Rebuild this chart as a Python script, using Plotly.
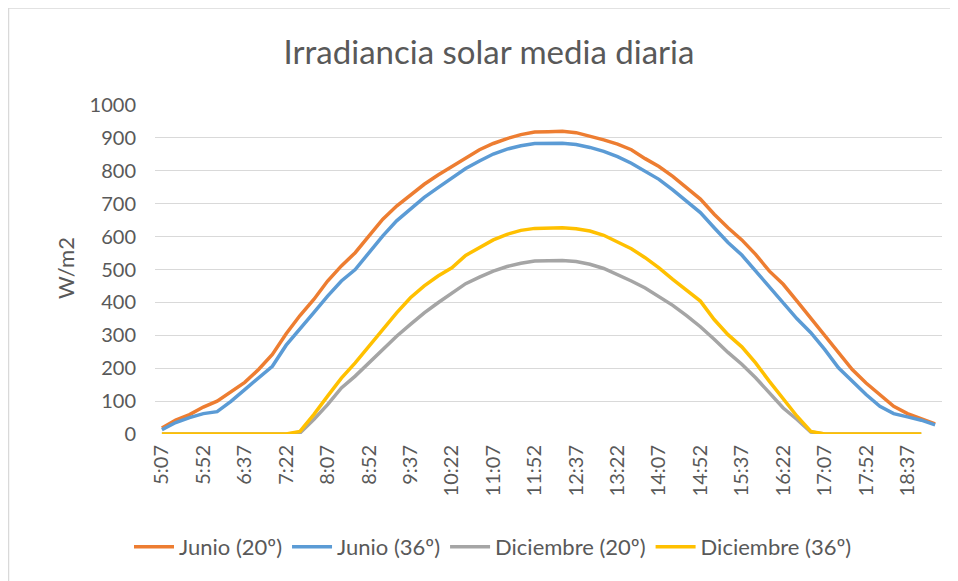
import plotly.graph_objects as go

times = ["5:07", "5:22", "5:37", "5:52", "6:07", "6:22", "6:37", "6:52", "7:07", "7:22",
         "7:37", "7:52", "8:07", "8:22", "8:37", "8:52", "9:07", "9:22", "9:37", "9:52",
         "10:07", "10:22", "10:37", "10:52", "11:07", "11:22", "11:37", "11:52", "12:07", "12:22",
         "12:37", "12:52", "13:07", "13:22", "13:37", "13:52", "14:07", "14:22", "14:37", "14:52",
         "15:07", "15:22", "15:37", "15:52", "16:07", "16:22", "16:37", "16:52", "17:07", "17:22",
         "17:37", "17:52", "18:07", "18:22", "18:37", "18:52", "19:07"]

tick_labels = ["5:07", "5:52", "6:37", "7:22", "8:07", "8:52", "9:37", "10:22", "11:07", "11:52",
               "12:37", "13:22", "14:07", "14:52", "15:37", "16:22", "17:07", "17:52", "18:37"]

junio_20 = [18, 42, 59, 82, 100, 127, 157, 196, 242, 305,
            360, 409, 465, 511, 551, 602, 653, 693, 726, 759,
            787, 812, 840, 864, 883, 898, 910, 918, 919, 920,
            916, 906, 894, 881, 864, 837, 813, 783, 749, 714,
            668, 627, 590, 546, 495, 455, 404, 353, 302, 247,
            196, 155, 120, 84, 62, 46, 31]

junio_36 = [13, 35, 50, 62, 68, 99, 135, 170, 206, 270,
            318, 369, 419, 465, 500, 551, 602, 648, 683, 719,
            749, 777, 807, 830, 851, 866, 876, 883, 883, 884,
            880, 871, 859, 843, 823, 800, 774, 742, 708, 673,
            627, 582, 544, 495, 445, 399, 350, 308, 257, 201,
            160, 120, 84, 62, 52, 42, 28]

diciembre_20 = [0, 0, 0, 0, 0, 0, 0, 0, 0, 0,
                3, 44, 89, 140, 176, 216, 257, 297, 333, 368,
                399, 429, 457, 477, 495, 509, 519, 526, 527, 527,
                524, 516, 503, 485, 465, 444, 419, 391, 360, 326,
                288, 248, 212, 171, 125, 79, 44, 6, 0, 0,
                0, 0, 0, 0, 0, 0, None]

diciembre_36 = [0, 0, 0, 0, 0, 0, 0, 0, 0, 0,
                8, 59, 115, 170, 216, 267, 318, 368, 414, 450,
                480, 505, 543, 568, 590, 607, 619, 625, 626, 627,
                624, 617, 604, 584, 563, 536, 505, 470, 437, 404,
                348, 302, 265, 216, 160, 105, 54, 8, 0, 0,
                0, 0, 0, 0, 0, 0, None]

series_names = ["Junio (20º)", "Junio (36º)", "Diciembre (20º)", "Diciembre (36º)"]
series_colors = ["#ED7D31", "#5B9BD5", "#A5A5A5", "#FFC000"]
series_values = [junio_20, junio_36, diciembre_20, diciembre_36]

FONT = "Lato"
TXT = "#595959"

fig = go.Figure()
for name, color, vals in zip(series_names, series_colors, series_values):
    fig.add_trace(go.Scatter(x=times, y=vals, mode="lines", name=name,
                             line=dict(color=color, width=3.5), connectgaps=False))

# page has an 8px body margin: figure origin sits at page (8, 8)
OFF = 8
W, H = 958 - OFF, 581 - OFF
# plot area in page pixels: x 155..942, y 105..434
PL, PR, PT, PB = 155, 942, 105, 434
L, R = PL - OFF, W - (PR - OFF)
T, B = PT - OFF, H - (PB - OFF)
pw, ph = PR - PL, PB - PT

def px(x):  # page x -> paper
    return (x - PL) / pw

def py(y):  # page y -> paper
    return (PB - y) / ph

fig.update_layout(
    width=W, height=H,
    margin=dict(l=L, r=R, t=T, b=B, autoexpand=False),
    paper_bgcolor="white", plot_bgcolor="white",
    font=dict(family=FONT, color=TXT),
    title=dict(text="Irradiancia solar media diaria", x=(489 - OFF) / W, xanchor="center",
               y=1 - (52 - OFF) / H, yanchor="middle", yref="container",
               font=dict(family=FONT, size=33, color=TXT)),
    showlegend=True,
    legend=dict(orientation="h", x=px(493), xanchor="center", y=py(547), yanchor="middle",
                font=dict(family=FONT, size=22, color=TXT), itemwidth=40,
                bgcolor="rgba(0,0,0,0)"),
    xaxis=dict(type="category", categoryorder="array", categoryarray=times,
               range=[-0.5, len(times) - 0.5],
               tickmode="array", tickvals=tick_labels, ticktext=tick_labels,
               tickangle=-90, tickfont=dict(family=FONT, size=20, color=TXT),
               showgrid=False, zeroline=False, showline=False, ticks="",
               ticklabelstandoff=6),
    yaxis=dict(range=[0, 1000], dtick=100, tick0=0,
               tickfont=dict(family=FONT, size=20, color=TXT),
               showgrid=True, gridcolor="#D9D9D9", gridwidth=1,
               zeroline=False, showline=False, ticks="", ticklabelstandoff=18),
    annotations=[dict(text="W/m2", x=px(65), y=py(268), xref="paper", yref="paper",
                      showarrow=False, textangle=-90,
                      font=dict(family=FONT, size=22, color=TXT),
                      xanchor="center", yanchor="middle")],
    shapes=[
        dict(type="line", xref="paper", yref="paper", x0=px(8), x1=px(958), y0=py(8), y1=py(8),
             line=dict(color="#D9D9D9", width=1.5)),
        dict(type="line", xref="paper", yref="paper", x0=px(8.5), x1=px(8.5), y0=py(8), y1=py(581),
             line=dict(color="#D9D9D9", width=1.5)),
    ],
)

fig.write_html("out.html")
